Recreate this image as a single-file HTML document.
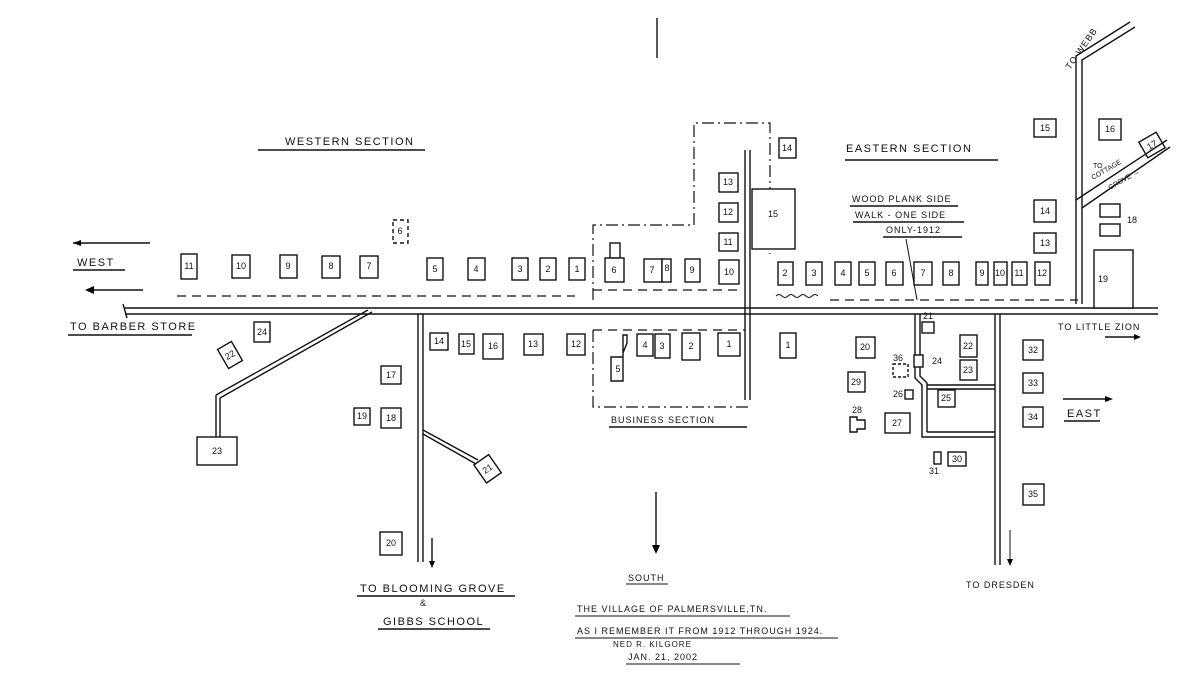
<!DOCTYPE html>
<html><head><meta charset="utf-8"><style>
html,body{margin:0;padding:0;background:#fff;}
svg{display:block}
text{font-family:"Liberation Sans",sans-serif;fill:#111;}
.b{fill:#fff;stroke:#111;stroke-width:1.4}
.n{font-size:9px;text-anchor:middle;dominant-baseline:central}
.l{font-size:11px;letter-spacing:1.5px}
.s{font-size:9px;letter-spacing:1px}
.d{fill:none;stroke:#111;stroke-width:1.2;stroke-dasharray:9 6}
.dd{fill:none;stroke:#111;stroke-width:1.2;stroke-dasharray:12 4 2 4}
.r{fill:none;stroke:#111;stroke-width:1.4}
</style></head><body>
<svg width="1197" height="682" viewBox="0 0 1197 682" xmlns="http://www.w3.org/2000/svg">
<!-- north line -->
<line x1="657" y1="18" x2="657" y2="58" class="r"/>
<!-- main road -->
<line x1="125" y1="308" x2="1158" y2="308" class="r"/>
<line x1="125" y1="314" x2="1158" y2="314" class="r"/>
<line x1="123" y1="304" x2="127" y2="318" class="r"/>
<!-- west sidewalk -->
<line x1="177" y1="296" x2="575" y2="296" class="d"/>
<!-- labels west -->
<text x="285" y="145" class="l">WESTERN SECTION</text>
<line x1="258" y1="150" x2="425" y2="150" class="r"/>
<line x1="73" y1="243" x2="150" y2="243" class="r"/><path d="M73 243 l8 -3 v6z"/>
<text x="77" y="266" class="l">WEST</text><line x1="73" y1="270" x2="125" y2="270" class="r"/>
<line x1="88" y1="290" x2="143" y2="290" class="r" stroke-width="2"/><path d="M85 290 l9 -4 v8z"/>
<text x="70" y="330" class="l">TO BARBER STORE</text><line x1="68" y1="335" x2="192" y2="335" class="r"/>
<!-- west top row -->
<rect x="181" y="254" width="16" height="25" class="b"/><text x="189" y="266" class="n">11</text>
<rect x="232" y="255" width="18" height="23" class="b"/><text x="241" y="266" class="n">10</text>
<rect x="280" y="255" width="17" height="23" class="b"/><text x="288" y="266" class="n">9</text>
<rect x="322" y="256" width="18" height="22" class="b"/><text x="331" y="266" class="n">8</text>
<rect x="360" y="256" width="18" height="22" class="b"/><text x="369" y="266" class="n">7</text>
<rect x="393" y="220" width="15" height="23" class="b" stroke-dasharray="4 3"/><text x="400" y="231" class="n">6</text>
<rect x="427" y="258" width="16" height="22" class="b"/><text x="435" y="269" class="n">5</text>
<rect x="468" y="258" width="17" height="22" class="b"/><text x="476" y="269" class="n">4</text>
<rect x="512" y="258" width="16" height="22" class="b"/><text x="520" y="269" class="n">3</text>
<rect x="540" y="258" width="16" height="22" class="b"/><text x="548" y="269" class="n">2</text>
<rect x="569" y="258" width="16" height="22" class="b"/><text x="577" y="269" class="n">1</text>
<!-- west lower -->
<rect x="254" y="322" width="16" height="20" class="b"/><text x="262" y="332" class="n">24</text>
<g transform="rotate(-30 230 355)"><rect x="222" y="344" width="16" height="22" class="b"/><text x="230" y="355" class="n" font-size="7">22</text></g>
<line x1="368" y1="310" x2="216" y2="395" class="r"/><line x1="372" y1="312" x2="220" y2="398" class="r"/>
<line x1="216" y1="395" x2="216" y2="437" class="r"/><line x1="220" y1="398" x2="220" y2="437" class="r"/>
<rect x="197" y="437" width="40" height="28" class="b"/><text x="217" y="451" class="n">23</text>
<line x1="418" y1="314" x2="418" y2="562" class="r"/><line x1="423" y1="314" x2="423" y2="562" class="r"/>
<rect x="381" y="366" width="20" height="18" class="b"/><text x="391" y="375" class="n">17</text>
<rect x="354" y="408" width="16" height="17" class="b"/><text x="362" y="416" class="n">19</text>
<rect x="381" y="408" width="20" height="20" class="b"/><text x="391" y="418" class="n">18</text>
<line x1="423" y1="430" x2="478" y2="460" class="r"/><line x1="423" y1="434" x2="476" y2="464" class="r"/>
<g transform="rotate(-35 487 468)"><rect x="478" y="458" width="18" height="22" class="b"/><text x="487" y="469" class="n" font-size="7">21</text></g>
<rect x="380" y="532" width="22" height="23" class="b"/><text x="391" y="543" class="n">20</text>
<line x1="432" y1="538" x2="432" y2="565" class="r"/><path d="M432 568 l-3 -7 h6z"/>
<rect x="430" y="333" width="18" height="17" class="b"/><text x="439" y="341" class="n">14</text>
<rect x="459" y="334" width="15" height="20" class="b"/><text x="466" y="344" class="n">15</text>
<rect x="483" y="334" width="20" height="25" class="b"/><text x="493" y="346" class="n">16</text>
<rect x="524" y="334" width="19" height="21" class="b"/><text x="533" y="344" class="n">13</text>
<rect x="567" y="334" width="18" height="21" class="b"/><text x="576" y="344" class="n">12</text>
<text x="360" y="592" class="l">TO BLOOMING GROVE</text><line x1="357" y1="596" x2="515" y2="596" class="r"/>
<text x="420" y="606" class="s">&amp;</text>
<text x="383" y="625" class="l">GIBBS SCHOOL</text><line x1="378" y1="629" x2="490" y2="629" class="r"/>
<!-- business section -->
<path d="M593 300 V225 H694 V123 H770 V254" class="dd"/>
<line x1="593" y1="290" x2="740" y2="290" class="d"/>
<line x1="745" y1="150" x2="745" y2="400" class="r"/><line x1="750" y1="150" x2="750" y2="400" class="r"/>
<path d="M593 330 V407 H750" class="dd"/><line x1="593" y1="330" x2="745" y2="330" class="d"/>
<rect x="752" y="189" width="43" height="60" class="b"/><text x="773" y="214" class="n">15</text>
<rect x="779" y="138" width="17" height="20" class="b"/><text x="787" y="148" class="n">14</text>
<rect x="719" y="173" width="19" height="19" class="b"/><text x="728" y="182" class="n">13</text>
<rect x="719" y="203" width="19" height="19" class="b"/><text x="728" y="212" class="n">12</text>
<rect x="719" y="233" width="19" height="18" class="b"/><text x="728" y="242" class="n">11</text>
<rect x="719" y="260" width="20" height="24" class="b"/><text x="729" y="272" class="n">10</text>
<rect x="610" y="243" width="10" height="15" class="b"/>
<rect x="605" y="258" width="19" height="24" class="b"/><text x="614" y="270" class="n">6</text>
<rect x="644" y="259" width="18" height="23" class="b"/><text x="652" y="270" class="n">7</text>
<rect x="662" y="259" width="9" height="23" class="b"/><text x="667" y="268" class="n" font-size="7">8</text>
<rect x="685" y="259" width="15" height="23" class="b"/><text x="692" y="270" class="n">9</text>
<path d="M611 357 h12 v-22 h4 v8 l-4 10 v28 h-12z" class="b"/><text x="618" y="369" class="n">5</text>
<rect x="637" y="334" width="16" height="22" class="b"/><text x="645" y="345" class="n">4</text>
<rect x="655" y="334" width="15" height="24" class="b"/><text x="662" y="346" class="n">3</text>
<rect x="682" y="333" width="18" height="27" class="b"/><text x="691" y="346" class="n">2</text>
<rect x="718" y="333" width="22" height="23" class="b"/><text x="729" y="344" class="n">1</text>
<text x="611" y="423" class="s">BUSINESS SECTION</text><line x1="609" y1="427" x2="747" y2="427" class="r"/>
<!-- eastern -->
<text x="846" y="152" class="l">EASTERN SECTION</text><line x1="845" y1="160" x2="998" y2="160" class="r"/>
<text x="852" y="202" class="s">WOOD PLANK SIDE</text><line x1="850" y1="206" x2="958" y2="206" class="r"/>
<text x="855" y="218" class="s">WALK - ONE SIDE</text><line x1="853" y1="222" x2="964" y2="222" class="r"/>
<text x="886" y="233" class="s">ONLY-1912</text><line x1="883" y1="237" x2="962" y2="237" class="r"/>
<line x1="906" y1="239" x2="917" y2="300" stroke="#111" stroke-width="1"/>
<line x1="830" y1="300" x2="1078" y2="300" class="d"/>
<path d="M776 296 q3 -3 6 0 t6 0 t6 0 t6 0 t6 0 t6 0 t6 0" fill="none" stroke="#111" stroke-width="1"/>
<rect x="778" y="262" width="15" height="23" class="b"/><text x="785" y="273" class="n">2</text>
<rect x="806" y="262" width="16" height="23" class="b"/><text x="814" y="273" class="n">3</text>
<rect x="835" y="262" width="16" height="23" class="b"/><text x="843" y="273" class="n">4</text>
<rect x="859" y="262" width="16" height="23" class="b"/><text x="867" y="273" class="n">5</text>
<rect x="886" y="262" width="17" height="23" class="b"/><text x="894" y="273" class="n">6</text>
<rect x="914" y="262" width="18" height="23" class="b"/><text x="923" y="273" class="n">7</text>
<rect x="943" y="262" width="16" height="23" class="b"/><text x="951" y="273" class="n">8</text>
<rect x="976" y="262" width="12" height="23" class="b"/><text x="982" y="273" class="n" font-size="7">9</text>
<rect x="994" y="262" width="13" height="23" class="b"/><text x="1000" y="273" class="n" font-size="7">10</text>
<rect x="1012" y="262" width="15" height="23" class="b"/><text x="1019" y="273" class="n">11</text>
<rect x="1035" y="262" width="15" height="23" class="b"/><text x="1042" y="273" class="n">12</text>
<rect x="780" y="333" width="16" height="25" class="b"/><text x="788" y="345" class="n">1</text>
<rect x="1034" y="119" width="22" height="18" class="b"/><text x="1045" y="128" class="n">15</text>
<rect x="1099" y="119" width="22" height="21" class="b"/><text x="1110" y="129" class="n">16</text>
<g transform="rotate(-30 1152 145)"><rect x="1142" y="136" width="20" height="18" class="b"/><text x="1152" y="145" class="n">17</text></g>
<rect x="1034" y="200" width="22" height="22" class="b"/><text x="1045" y="211" class="n">14</text>
<rect x="1034" y="233" width="22" height="20" class="b"/><text x="1045" y="243" class="n">13</text>
<rect x="1100" y="204" width="20" height="13" class="b"/><rect x="1100" y="224" width="20" height="12" class="b"/>
<text x="1132" y="220" class="n" font-size="7">18</text>
<rect x="1094" y="250" width="39" height="58" class="b"/><text x="1103" y="279" class="n">19</text>
<!-- north roads -->
<path d="M1076 304 V200 L1076 56 L1130 22" class="r"/>
<path d="M1082 304 V208 L1082 60 L1135 27" class="r"/>
<path d="M1076 200 L1167 140" class="r"/><path d="M1082 208 L1170 147" class="r"/>
<text x="1070" y="70" class="s" transform="rotate(-55 1070 70)">TO WEBB</text>
<text x="1093" y="168" font-size="7">TO</text>
<text x="1093" y="180" font-size="7" transform="rotate(-30 1093 180)">COTTAGE</text>
<text x="1110" y="190" font-size="7" transform="rotate(-30 1110 190)">GROVE →</text>
<!-- south east roads -->
<path d="M915 314 V378 L922 385 V437 H995" class="r"/>
<path d="M920 314 V376 L927 383 V432" class="r"/>
<line x1="927" y1="385" x2="995" y2="385" class="r"/><line x1="927" y1="389" x2="995" y2="389" class="r"/>
<line x1="927" y1="432" x2="995" y2="432" class="r"/>
<line x1="995" y1="314" x2="995" y2="565" class="r"/><line x1="1000" y1="314" x2="1000" y2="565" class="r"/>
<rect x="856" y="337" width="19" height="21" class="b"/><text x="865" y="347" class="n">20</text>
<rect x="922" y="322" width="12" height="11" class="b"/><text x="928" y="316" class="n" font-size="7">21</text>
<rect x="960" y="335" width="17" height="22" class="b"/><text x="968" y="346" class="n" font-size="7">22</text>
<rect x="960" y="360" width="17" height="20" class="b"/><text x="968" y="370" class="n" font-size="7">23</text>
<rect x="914" y="355" width="9" height="12" class="b"/><text x="937" y="361" class="n">24</text>
<rect x="893" y="364" width="15" height="13" class="b" stroke-dasharray="3 2"/><text x="898" y="358" class="n" font-size="7">36</text>
<rect x="848" y="372" width="17" height="20" class="b"/><text x="856" y="382" class="n">29</text>
<rect x="905" y="390" width="8" height="9" class="b"/><text x="898" y="394" class="n" font-size="7">26</text>
<rect x="938" y="390" width="17" height="17" class="b"/><text x="946" y="398" class="n" font-size="7">25</text>
<path d="M850 417 h7 v3 h8 v9 h-8 v3 h-7z" class="b"/><text x="857" y="410" class="n" font-size="7">28</text>
<rect x="885" y="413" width="25" height="20" class="b"/><text x="897" y="423" class="n">27</text>
<rect x="934" y="452" width="7" height="12" class="b"/><text x="934" y="471" class="n" font-size="7">31</text>
<rect x="948" y="452" width="18" height="14" class="b"/><text x="957" y="459" class="n" font-size="7">30</text>
<rect x="1023" y="340" width="20" height="20" class="b"/><text x="1033" y="350" class="n">32</text>
<rect x="1023" y="373" width="20" height="20" class="b"/><text x="1033" y="383" class="n">33</text>
<rect x="1023" y="407" width="20" height="20" class="b"/><text x="1033" y="417" class="n">34</text>
<rect x="1023" y="484" width="21" height="21" class="b"/><text x="1033" y="494" class="n">35</text>
<text x="1058" y="330" class="s">TO LITTLE ZION</text>
<line x1="1105" y1="337" x2="1138" y2="337" class="r"/><path d="M1141 337 l-7 -3 v6z"/>
<line x1="1063" y1="399" x2="1108" y2="399" class="r"/><path d="M1113 399 l-8 -3 v6z"/>
<text x="1067" y="417" class="l">EAST</text><line x1="1064" y1="421" x2="1100" y2="421" class="r"/>
<line x1="1010" y1="530" x2="1010" y2="562" stroke="#111"/><path d="M1010 566 l-3 -7 h6z"/>
<text x="966" y="588" class="s">TO DRESDEN</text>
<!-- south -->
<line x1="656" y1="492" x2="656" y2="548" class="r"/><path d="M656 554 l-4 -9 h8z"/>
<text x="628" y="581" class="s">SOUTH</text><line x1="626" y1="584" x2="668" y2="584" stroke="#111"/>
<text x="577" y="612" class="s">THE VILLAGE OF PALMERSVILLE,TN.</text><line x1="575" y1="616" x2="790" y2="616" stroke="#111"/>
<text x="577" y="634" class="s">AS I REMEMBER IT FROM 1912 THROUGH 1924.</text><line x1="575" y1="638" x2="838" y2="638" stroke="#111"/>
<text x="613" y="647" font-size="8" letter-spacing="1">NED R. KILGORE</text>
<text x="628" y="660" class="s">JAN. 21, 2002</text><line x1="626" y1="664" x2="740" y2="664" stroke="#111"/>
</svg>
</body></html>
